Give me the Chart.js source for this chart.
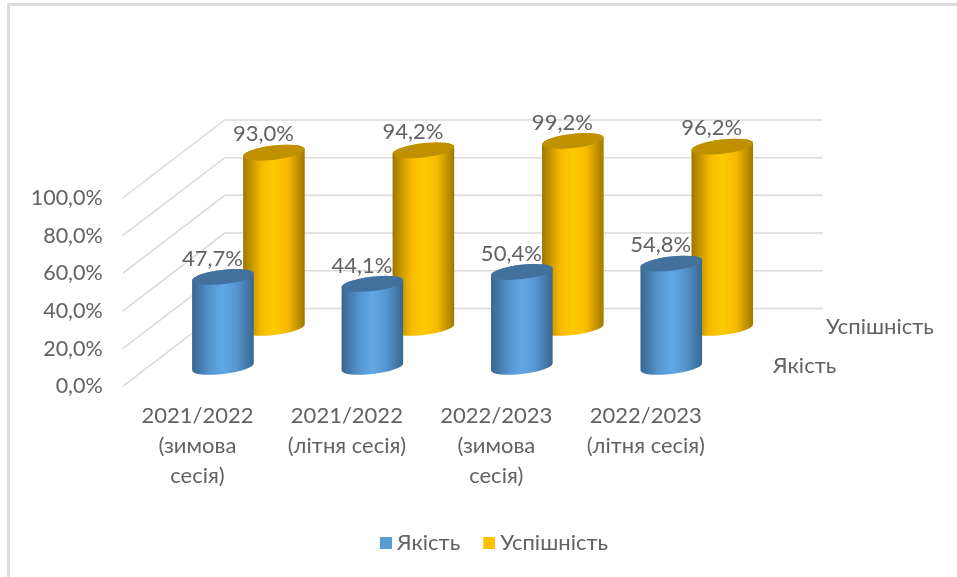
<!DOCTYPE html>
<html><head><meta charset="utf-8">
<style>
html,body{margin:0;padding:0;background:#fff;overflow:hidden}
#wrap{position:relative;width:957px;height:577px}
#frame{position:absolute;left:7px;top:3px;right:0;bottom:0;border-left:3px solid #DCDCDC;border-top:3px solid #DCDCDC}
canvas{position:absolute;left:0;top:0;filter:blur(.35px)}
</style>
<script src="https://cdn.jsdelivr.net/npm/chart.js@4"></script>
</head><body><div id="wrap"><div id="frame"></div><canvas id="c" width="957" height="577"></canvas></div>
<script>
const categories = [["2021/2022","(зимова","сесія)"],["2021/2022","(літня сесія)"],["2022/2023","(зимова","сесія)"],["2022/2023","(літня сесія)"]];
const seriesNames = ["Якість","Успішність"];
const quality = [47.7,44.1,50.4,54.8];
const success = [93.0,94.2,99.2,96.2];
const FONT = 'Lato, Carlito, sans-serif';
const TEXT = '#626262';
const fmt = v => v.toFixed(1).replace('.',',') + '%';
const DEPTH = {x:102, y:-78};
const TILT = -6.7*Math.PI/180, RATIO = 0.23;

class Cylinder3D extends Chart.BarController {
  draw(){
    const meta = this.getMeta(), ctx = this.chart.ctx;
    const f = this.getDataset().depth;
    const st = this.getDataset().shade;
    meta.data.forEach(el=>{
      const rx = el.width/2, ry = rx*RATIO;
      const cx = el.x + DEPTH.x*f, top = el.y + DEPTH.y*f, base = el.base + DEPTH.y*f;
      const g = ctx.createLinearGradient(cx-rx,0,cx+rx,0);
      g.addColorStop(0,st.edge); g.addColorStop(.3,st.mid); g.addColorStop(.5,st.light); g.addColorStop(.72,st.mid); g.addColorStop(1,st.edge);
      const lx = Math.cos(TILT)*rx, ly = Math.sin(TILT)*rx;
      ctx.save();
      ctx.beginPath();
      ctx.moveTo(cx-lx, top-ly);
      ctx.lineTo(cx-lx, base-ly);
      ctx.ellipse(cx, base, rx, ry, TILT, Math.PI, 0, true);
      ctx.lineTo(cx+lx, top+ly);
      ctx.ellipse(cx, top, rx, ry, TILT, 0, Math.PI, true);
      ctx.closePath();
      ctx.fillStyle = g; ctx.fill();
      ctx.beginPath();
      ctx.ellipse(cx, top, rx, ry, TILT, 0, Math.PI*2);
      ctx.fillStyle = st.cap; ctx.fill();
      ctx.restore();
    });
  }
}
Cylinder3D.id = 'cylinder3d';
Cylinder3D.defaults = Chart.BarController.defaults;
Cylinder3D.overrides = Chart.BarController.overrides;
Chart.register(Cylinder3D);

const walls = {
  id:'walls',
  beforeDatasetsDraw(chart){
    const {ctx, chartArea:a, scales:{y}} = chart;
    ctx.save(); ctx.strokeStyle='#D9D9D9'; ctx.lineWidth=1.5;
    y.ticks.forEach(t=>{
      const py = y.getPixelForValue(t.value);
      ctx.beginPath(); ctx.moveTo(a.left,py);
      ctx.lineTo(a.left+DEPTH.x,py+DEPTH.y);
      ctx.lineTo(a.right+DEPTH.x,py+DEPTH.y); ctx.stroke();
    });
    ctx.restore();
  },
  afterDatasetsDraw(chart){
    const {ctx, chartArea:a, scales:{y}} = chart;
    ctx.save(); ctx.font='22px '+FONT; ctx.fillStyle=TEXT; ctx.textBaseline='middle'; ctx.textAlign='center';
    chart.data.datasets.forEach((ds,i)=>{
      chart.getDatasetMeta(i).data.forEach((el,j)=>{
        ctx.fillText(fmt(ds.data[j]), el.x + DEPTH.x*ds.depth - 10.5, el.y + DEPTH.y*ds.depth - 18.3);
      });
    });
    // depth-axis series names
    const py0 = y.getPixelForValue(0);
    ctx.textAlign='left';
    chart.data.datasets.forEach(ds=>{
      ctx.fillText(ds.label, a.right + DEPTH.x*ds.depth + (ds.depth<.5?27:29), py0 + DEPTH.y*ds.depth - .5);
    });
    ctx.restore();
  }
};

// Legend swatch: 12px square sitting 6px to the right of the legend's box slot, closer to its label.
function swatch(color){
  const c = document.createElement('canvas');
  c.width = 24; c.height = 12;
  const x = c.getContext('2d');
  x.fillStyle = color; x.fillRect(12,0,12,12);
  return c;
}

new Chart(document.getElementById('c'),{
  type:'cylinder3d',
  data:{labels:categories,datasets:[
    {label:seriesNames[0],data:quality,depth:.25,clip:false,backgroundColor:'#5B9BD5',borderColor:'#5B9BD5',
     shade:{edge:'#38668F',mid:'#5596D0',light:'#62A8E6',cap:'#41719C'}},
    {label:seriesNames[1],data:success,depth:.75,clip:false,backgroundColor:'#FFC000',borderColor:'#FFC000',
     shade:{edge:'#9E7600',mid:'#F7BA00',light:'#FFCB00',cap:'#BF9000'}}
  ]},
  options:{
    responsive:false,animation:false,
    datasets:{cylinder3d:{grouped:false,barPercentage:1,categoryPercentage:.415}},
    layout:{padding:{left:25,right:0,top:198,bottom:13}},
    plugins:{
      tooltip:{enabled:false},
      legend:{position:'bottom',labels:{boxWidth:12,boxHeight:12,padding:17,color:TEXT,font:{family:FONT,size:22},
        usePointStyle:true,
        generateLabels(chart){
          return Chart.defaults.plugins.legend.labels.generateLabels(chart).map((it,i)=>{
            it.pointStyle = swatch(chart.data.datasets[i].backgroundColor);
            return it;
          });
        }}}
    },
    scales:{
      x:{grid:{display:false},border:{display:false},
         ticks:{color:TEXT,font:{family:FONT,size:22,lineHeight:1.36},padding:6.6,maxRotation:0,minRotation:0,autoSkip:false},
         afterFit(s){s.height=128.6}},
      y:{min:0,max:100,position:'left',grid:{display:false},border:{display:false},
         ticks:{stepSize:20,color:TEXT,font:{family:FONT,size:21.5},padding:12,callback:v=>fmt(v)},
         afterFit(s){s.width=97.7}},
      pad:{position:'right',grid:{display:false},border:{display:false},ticks:{display:false},
         afterFit(s){s.width=236.5}}
    }
  },
  plugins:[walls]
});
</script></body></html>
